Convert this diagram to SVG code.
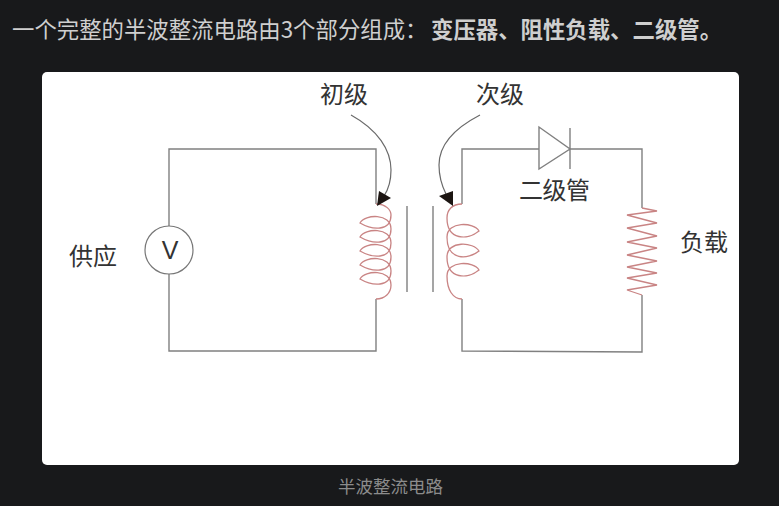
<svg xmlns="http://www.w3.org/2000/svg" width="779" height="506" viewBox="0 0 779 506">
<style>
.t{font-family:"Noto Sans CJK SC","Noto Sans",sans-serif}
.d{font-size:24px;fill:#333}
.w{fill:none;stroke:#808080;stroke-width:1.4}
.c{fill:none;stroke:#c98484;stroke-width:1.3}
.a{fill:none;stroke:#6a6a6a;stroke-width:1.2}
.h{fill:#1c1512}
</style>
<rect width="779" height="506" fill="#18191b"/>
<text class="t" x="12" y="38" font-size="22.4" fill="#cfcfcf">一个完整的半波整流电路由3个部分组成：</text>
<text class="t" x="431" y="38" font-size="22.4" fill="#cfcfcf" font-weight="700">变压器、阻性负载、二级管。</text>
<rect x="42" y="72" width="697" height="393" rx="5" fill="#fff"/>
<g id="connectors">
<path class="w" d="M169,226V149H376V204"/>
<path class="w" d="M169,274V351H376V299"/>
<path class="w" d="M462,204V149H539"/>
<path class="w" d="M570,149H642V208"/>
<path class="w" d="M462,299V351L642,352V295"/>
<path class="a" d="M351,115C378,130 391,150 391,170C391,180 388,190 384,196"/>
<path class="a" d="M480,115C455,128 439,145 439,165C439,176 442,186 446,194"/>
</g>
<g id="supply"><circle cx="169" cy="250" r="24" fill="#fff" stroke="#777" stroke-width="1.2"/>
<text x="170" y="259" text-anchor="middle" font-family="Liberation Sans,sans-serif" font-size="25" fill="#333">V</text>
<text class="t d" x="69" y="265">供应</text></g>
<g id="primary">
<path class="c" d="M376,204C386,204 391,210 391,215C391,232 372,230 360,223C365,214 391,213 391,229C391,246 372,244 360,237C365,228 391,227 391,243C391,260 372,258 360,251C365,242 391,241 391,257C391,274 372,272 360,265C365,256 391,255 391,271C391,288 372,286 360,279C365,270 391,269 391,285C391,293 385,299 376,299"/>
<path class="h" d="M379,191L391,198L377,206Z"/>
<text class="t d" x="320" y="103">初级</text></g>
<g id="core"><path class="a" d="M407,206V292M433,206V292"/></g>
<g id="secondary">
<path class="c" d="M462,204C452,204 447,210 447,218C447,241 468,240 479,231C474,222 447,221 447,237C447,261 468,260 479,251C474,242 447,240 447,257C447,280 468,279 479,270C474,261 447,260 447,276C447,290 453,299 462,299"/>
<path class="h" d="M439,196L453,191V206Z"/>
<text class="t d" x="476" y="103">次级</text></g>
<g id="diode"><path class="w" fill="#fff" d="M539,127V169L570,149ZM570,128V169"/>
<text class="t d" x="519" y="199" letter-spacing="-0.500">二级管</text></g>
<g id="load"><path class="c" d="M642,208L657,211L627,215L657,223L627,228L657,236L627,242L657,248L627,255L657,261L627,267L657,273L627,278L657,285L627,290L642,295"/>
<text class="t d" x="680" y="251">负载</text></g>
<text class="t" x="390.500" y="493" font-size="17.500" fill="#8c8c8c" text-anchor="middle">半波整流电路</text>
</svg>
